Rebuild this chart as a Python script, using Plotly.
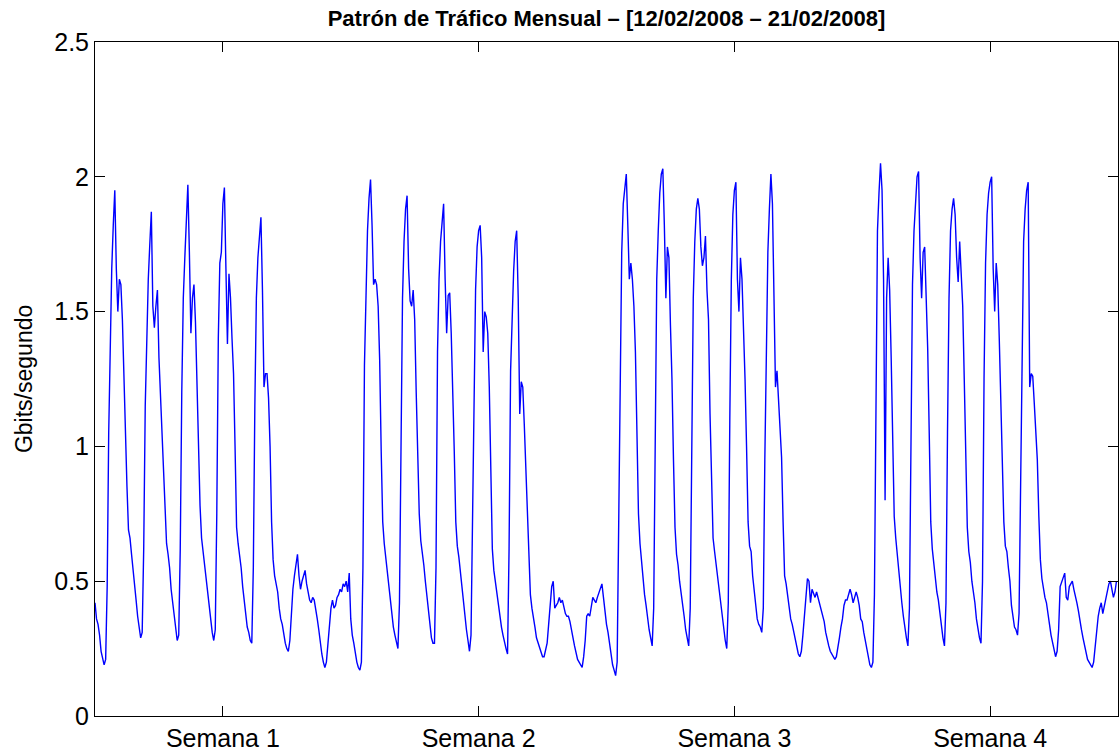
import numpy as np
import plotly.graph_objects as go

# Hourly traffic (Gbits/segundo); one row per day, 7 days per week
week1 = [
    0.42,0.36,0.34,0.30,0.24,0.22,0.19,0.21,0.48,1.05,1.45,1.66,1.82,1.95,1.66,1.50,1.62,1.60,1.47,1.25,1.02,0.85,0.69,0.66,
    0.60,0.55,0.48,0.43,0.37,0.33,0.29,0.31,0.62,1.15,1.45,1.62,1.75,1.87,1.52,1.44,1.52,1.58,1.33,1.18,1.08,0.92,0.74,0.64,
    0.60,0.55,0.47,0.42,0.37,0.33,0.28,0.30,0.62,1.20,1.55,1.70,1.86,1.97,1.72,1.42,1.55,1.60,1.46,1.20,1.00,0.78,0.66,0.61,
    0.56,0.50,0.45,0.41,0.36,0.31,0.28,0.32,0.75,1.40,1.68,1.72,1.90,1.96,1.66,1.38,1.64,1.55,1.40,1.27,1.00,0.70,0.64,0.60,
    0.55,0.48,0.43,0.36,0.33,0.31,0.28,0.27,0.55,1.15,1.55,1.70,1.78,1.85,1.58,1.22,1.27,1.27,1.18,1.00,0.72,0.58,0.52,0.49,
    0.46,0.40,0.36,0.34,0.30,0.27,0.25,0.24,0.28,0.38,0.47,0.52,0.56,0.60,0.52,0.47,0.50,0.52,0.54,0.49,0.46,0.43,0.42,0.44,
    0.43,0.40,0.36,0.32,0.27,0.23,0.20,0.18,0.20,0.27,0.35,0.40,0.43,0.40,0.41,0.44,0.45,0.47,0.46,0.49,0.48,0.50,0.46,0.53,
]
week2 = [
    0.36,0.30,0.27,0.23,0.20,0.18,0.17,0.20,0.55,1.30,1.62,1.80,1.92,1.99,1.82,1.60,1.62,1.60,1.52,1.32,0.98,0.72,0.64,0.59,
    0.54,0.48,0.42,0.38,0.33,0.30,0.27,0.25,0.42,1.12,1.55,1.76,1.88,1.93,1.66,1.54,1.52,1.58,1.47,1.20,1.00,0.75,0.65,0.61,
    0.56,0.50,0.44,0.39,0.33,0.29,0.27,0.27,0.55,1.35,1.62,1.76,1.83,1.90,1.62,1.42,1.56,1.57,1.42,1.22,0.98,0.72,0.63,0.59,
    0.53,0.48,0.42,0.37,0.32,0.28,0.24,0.30,0.75,1.30,1.58,1.74,1.80,1.82,1.70,1.35,1.50,1.48,1.42,1.22,0.90,0.62,0.54,0.50,
    0.45,0.40,0.36,0.33,0.30,0.27,0.25,0.23,0.62,1.28,1.52,1.65,1.76,1.80,1.55,1.12,1.24,1.22,1.08,0.93,0.76,0.56,0.45,0.40,
    0.37,0.33,0.29,0.27,0.25,0.24,0.22,0.22,0.24,0.27,0.34,0.42,0.48,0.50,0.40,0.41,0.42,0.44,0.42,0.43,0.40,0.38,0.37,0.37,
    0.35,0.31,0.29,0.26,0.23,0.21,0.20,0.19,0.18,0.22,0.28,0.37,0.38,0.37,0.41,0.44,0.43,0.42,0.44,0.46,0.47,0.49,0.44,0.38,
]
week3 = [
    0.34,0.31,0.27,0.23,0.19,0.17,0.15,0.20,0.70,1.30,1.72,1.90,1.96,2.01,1.82,1.62,1.68,1.62,1.52,1.35,1.05,0.75,0.64,0.58,
    0.50,0.45,0.41,0.36,0.32,0.29,0.26,0.40,1.10,1.62,1.80,1.94,2.01,2.03,1.82,1.55,1.74,1.70,1.45,1.25,0.95,0.70,0.60,0.56,
    0.50,0.46,0.42,0.37,0.32,0.29,0.26,0.40,1.00,1.55,1.76,1.88,1.92,1.88,1.74,1.67,1.70,1.78,1.58,1.47,1.12,0.82,0.66,0.61,
    0.56,0.51,0.46,0.41,0.36,0.32,0.28,0.25,0.42,1.10,1.62,1.86,1.95,1.98,1.62,1.50,1.70,1.62,1.45,1.25,1.00,0.72,0.63,0.61,
    0.52,0.47,0.40,0.36,0.34,0.33,0.31,0.40,0.95,1.35,1.72,1.88,2.01,1.90,1.45,1.22,1.28,1.16,1.06,0.96,0.72,0.52,0.49,0.44,
    0.40,0.36,0.34,0.31,0.28,0.25,0.23,0.22,0.24,0.30,0.37,0.45,0.51,0.50,0.42,0.47,0.45,0.44,0.46,0.44,0.42,0.39,0.37,0.35,
    0.31,0.28,0.26,0.24,0.23,0.22,0.21,0.22,0.25,0.29,0.33,0.36,0.41,0.43,0.43,0.45,0.47,0.45,0.42,0.44,0.46,0.44,0.41,0.36,
]
week4 = [
    0.35,0.31,0.28,0.24,0.21,0.19,0.18,0.20,0.45,1.30,1.80,1.94,2.05,1.95,1.62,0.80,1.55,1.70,1.58,1.33,1.05,0.74,0.66,0.60,
    0.52,0.47,0.42,0.37,0.32,0.29,0.26,0.40,1.00,1.60,1.80,1.92,2.00,2.02,1.70,1.55,1.72,1.74,1.56,1.36,1.05,0.72,0.62,0.57,
    0.50,0.46,0.43,0.38,0.33,0.29,0.26,0.42,1.05,1.55,1.80,1.88,1.92,1.86,1.70,1.61,1.76,1.66,1.52,1.25,0.92,0.70,0.61,0.57,
    0.50,0.46,0.42,0.36,0.32,0.29,0.27,0.50,1.25,1.68,1.86,1.94,1.98,2.00,1.66,1.50,1.68,1.60,1.40,1.15,0.95,0.72,0.63,0.61,
    0.55,0.50,0.41,0.36,0.33,0.32,0.30,0.38,0.85,1.50,1.76,1.88,1.95,1.98,1.22,1.27,1.26,1.16,1.05,0.95,0.74,0.58,0.51,0.47,
    0.44,0.42,0.37,0.34,0.30,0.27,0.24,0.22,0.24,0.32,0.48,0.50,0.52,0.53,0.44,0.43,0.48,0.49,0.50,0.47,0.45,0.42,0.39,0.35,
    0.32,0.29,0.26,0.24,0.21,0.20,0.19,0.18,0.20,0.26,0.31,0.37,0.40,0.42,0.38,0.41,0.44,0.46,0.49,0.50,0.47,0.44,0.46,0.50,
]

week_tick_pos = [3.5, 10.5, 17.5, 24.5]
week_labels = ["Semana 1", "Semana 2", "Semana 3", "Semana 4"]
y_ticks = [0, 0.5, 1, 1.5, 2, 2.5]
y_labels = ["0", "0.5", "1", "1.5", "2", "2.5"]

traffic = np.array(week1 + week2 + week3 + week4)
days = np.arange(len(traffic)) / 24.0

FONT = "Liberation Sans, Arial, Helvetica, sans-serif"

fig = go.Figure()
fig.add_trace(go.Scatter(x=days, y=traffic, mode="lines",
                         line=dict(color="#0000ff", width=1.4),
                         showlegend=False, hoverinfo="skip"))

axis_common = dict(showline=True, linecolor="black", linewidth=1,
                   mirror="ticks", ticks="inside", ticklen=10,
                   tickcolor="black", showgrid=False, zeroline=False,
                   tickfont=dict(family=FONT, size=25, color="black"))

fig.update_layout(
    width=1120, height=753,
    margin=dict(l=95, r=1, t=42, b=33),
    paper_bgcolor="white", plot_bgcolor="white",
    title=dict(text="<b>Patrón de Tráfico Mensual – [12/02/2008 – 21/02/2008]</b>",
               font=dict(family=FONT, size=22, color="black"),
               x=0.5, xref="paper", y=1 - 18 / 753, yref="container",
               xanchor="center", yanchor="middle"),
    xaxis=dict(range=[0, 28], tickvals=week_tick_pos, ticktext=week_labels, **axis_common),
    yaxis=dict(range=[0, 2.5], tickvals=y_ticks, ticktext=y_labels, **axis_common),
    annotations=[dict(text="Gbits/segundo", textangle=-90, showarrow=False,
                      xref="paper", yref="paper", x=(24 - 95) / 1024, y=0.5,
                      xanchor="center", yanchor="middle",
                      font=dict(family=FONT, size=23, color="black"))],
)

fig.write_html("out.html")
